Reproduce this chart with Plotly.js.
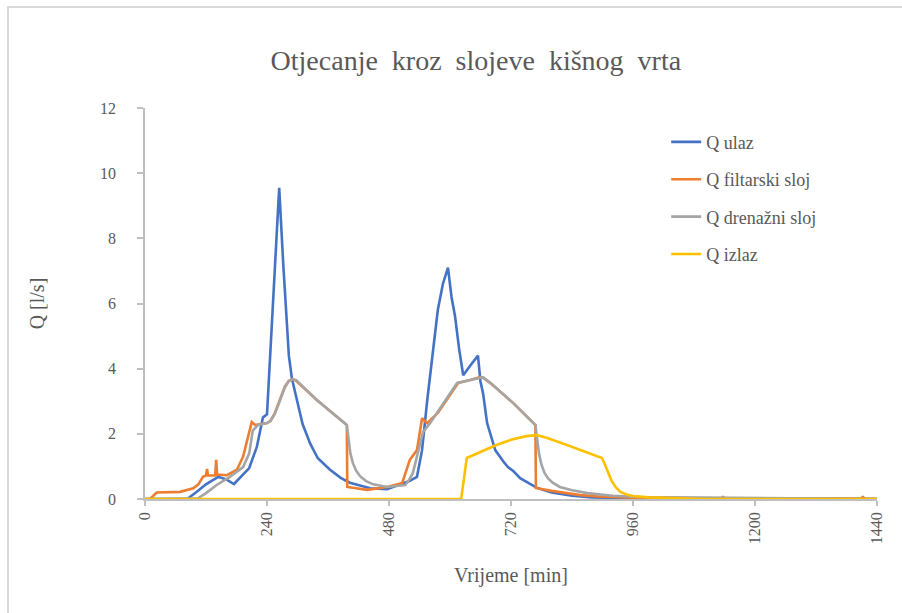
<!DOCTYPE html>
<html>
<head>
<meta charset="utf-8">
<script src="https://cdn.plot.ly/plotly-3.0.1.min.js"></script>
<style>
  .modebar-container { display: none !important; }
</style>
</head>
<body style="margin:0;background:#ffffff">
<div id="chart" style="width:902px;height:613px"></div>
<div id="frame" style="position:absolute;left:7px;top:6px;width:900px;height:610px;border-left:2px solid #D9D9D9;border-top:2px solid #D9D9D9;pointer-events:none"></div>
<script>
// ---- data ----
const seriesNames = ["Q ulaz", "Q filtarski sloj", "Q drenažni sloj", "Q izlaz"];

const ulazX = [0, 83, 100, 120, 144, 160, 175, 190, 205, 220, 232, 240, 252, 264, 272, 283, 289, 299, 310, 325, 340, 364, 385, 403, 425, 443, 476, 500, 520, 535, 545, 555, 565, 576, 586, 596, 603, 610, 618, 626, 640, 655, 660, 665, 673, 689, 705, 714, 725, 738, 771, 800, 840, 880, 960, 1440];
const ulazY = [0, 0, 0.2, 0.45, 0.68, 0.6, 0.46, 0.7, 0.95, 1.6, 2.5, 2.6, 6.0, 9.55, 7.2, 4.4, 3.7, 3.0, 2.3, 1.7, 1.25, 0.9, 0.65, 0.5, 0.4, 0.33, 0.3, 0.43, 0.55, 0.68, 1.5, 3.0, 4.27, 5.8, 6.6, 7.1, 6.2, 5.6, 4.6, 3.8, 4.1, 4.4, 3.6, 3.25, 2.33, 1.5, 1.15, 0.98, 0.85, 0.64, 0.34, 0.2, 0.1, 0.05, 0.02, 0];

const filterX = [0, 10, 23, 69, 95, 105, 114, 120, 122, 124, 138, 140, 142, 161, 181, 193, 210, 217, 240, 247, 255, 265, 275, 283, 289, 296, 310, 338, 397, 398, 437, 480, 506, 521, 535, 545, 555, 576, 596, 616, 640, 659, 665, 680, 724, 768, 769, 800, 856, 900, 960, 1000, 1135, 1137, 1140, 1410, 1412, 1415, 1440];
const filterY = [0, 0, 0.2, 0.22, 0.33, 0.45, 0.68, 0.72, 0.92, 0.72, 0.72, 1.2, 0.75, 0.73, 0.9, 1.3, 2.36, 2.27, 2.33, 2.4, 2.62, 3.05, 3.45, 3.63, 3.67, 3.64, 3.45, 3.04, 2.27, 0.37, 0.28, 0.38, 0.49, 1.2, 1.5, 2.48, 2.33, 2.64, 3.1, 3.56, 3.65, 3.74, 3.72, 3.55, 2.95, 2.27, 0.34, 0.25, 0.12, 0.07, 0.04, 0.02, 0.01, 0.08, 0.01, 0.01, 0.08, 0.01, 0];

const drenX = [0, 100, 104, 120, 141, 167, 193, 205, 212, 222, 240, 247, 255, 265, 275, 283, 291, 298, 312, 338, 397, 400, 404, 409, 415, 423, 435, 449, 476, 512, 520, 527, 537, 547, 561, 590, 614, 640, 665, 680, 724, 768, 771, 775, 780, 786, 793, 802, 816, 840, 870, 920, 974, 1440];
const drenY = [0, 0, 0.02, 0.18, 0.43, 0.68, 0.98, 1.4, 2.1, 2.27, 2.33, 2.4, 2.6, 3.0, 3.42, 3.62, 3.68, 3.64, 3.43, 3.04, 2.27, 1.85, 1.4, 1.1, 0.88, 0.7, 0.55, 0.45, 0.37, 0.43, 0.6, 0.8, 1.4, 2.06, 2.33, 3.0, 3.56, 3.65, 3.74, 3.56, 2.95, 2.27, 1.85, 1.4, 1.05, 0.8, 0.63, 0.5, 0.37, 0.27, 0.18, 0.1, 0.06, 0];

const izlazX = [0, 622, 633, 660, 690, 720, 750, 771, 790, 830, 870, 899, 905, 911, 918, 926, 935, 947, 960, 990, 1027, 1100, 1440];
const izlazY = [0, 0, 1.26, 1.45, 1.65, 1.82, 1.93, 1.96, 1.88, 1.66, 1.43, 1.26, 1.05, 0.8, 0.55, 0.36, 0.22, 0.14, 0.09, 0.05, 0.03, 0, 0];

const xTicks = [0, 240, 480, 720, 960, 1200, 1440];
const yTicks = [0, 2, 4, 6, 8, 10, 12];

const colors = ["#4472C4", "#ED7D31", "#A5A5A5", "#FFC000"];
const xs = [ulazX, filterX, drenX, izlazX];
const ys = [ulazY, filterY, drenY, izlazY];

const FONT = "Liberation Serif";
const TXT = "#595959";

const traces = seriesNames.map((n, i) => ({
  type: "scatter", mode: "lines", name: n,
  x: xs[i], y: ys[i],
  legendgroup: "g" + i,
  line: { color: colors[i], width: 2.6 }
}));

const layout = {
  width: 902, height: 613,
  paper_bgcolor: "#ffffff", plot_bgcolor: "#ffffff",
  margin: { l: 145, r: 25, t: 108, b: 114 },
  font: { family: FONT, color: TXT, size: 16 },
  title: {
    text: "Otjecanje  kroz  slojeve  kišnog  vrta",
    font: { family: FONT, size: 28, color: TXT },
    xref: "paper", x: 0.452, xanchor: "center",
    yref: "container", y: 0.902, yanchor: "middle"
  },
  showlegend: true,
  legend: {
    x: 0.712, y: 0.96, xanchor: "left", yanchor: "top",
    font: { family: FONT, size: 18, color: TXT },
    tracegroupgap: 11, bgcolor: "rgba(0,0,0,0)"
  },
  xaxis: {
    range: [0, 1440], tickvals: xTicks, ticktext: xTicks.map(String),
    tickangle: -90, ticks: "outside", ticklen: 5, tickcolor: "#BFBFBF", tickwidth: 1.5,
    showline: true, linecolor: "#BFBFBF", linewidth: 1.5,
    showgrid: false, zeroline: false,
    tickfont: { family: FONT, size: 16, color: TXT },
    title: { text: "Vrijeme [min]", font: { family: FONT, size: 20, color: TXT }, standoff: 25 },
    automargin: false
  },
  yaxis: {
    range: [0, 12], tickvals: yTicks, ticktext: yTicks.map(String),
    ticks: "outside", ticklen: 6, tickcolor: "#BFBFBF", tickwidth: 1.5,
    showline: true, linecolor: "#BFBFBF", linewidth: 1.5,
    showgrid: false, zeroline: false,
    tickfont: { family: FONT, size: 16, color: TXT },
    ticklabelstandoff: 18,
    title: { text: "Q [l/s]", font: { family: FONT, size: 20, color: TXT }, standoff: 50 },
    automargin: false
  }
};

Plotly.newPlot("chart", traces, layout);
</script>
</body>
</html>
